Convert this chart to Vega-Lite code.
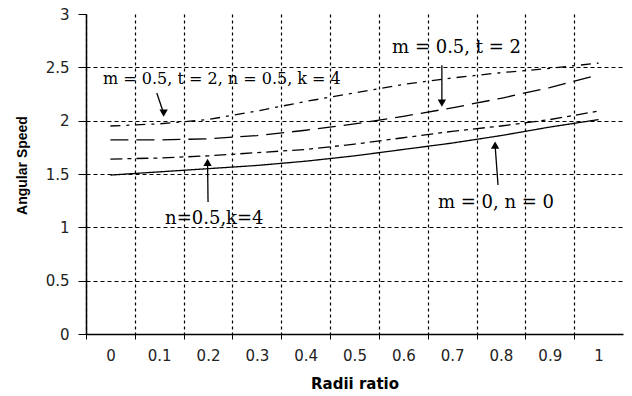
{
  "$schema": "https://vega.github.io/schema/vega-lite/v6.json",
  "width": 537,
  "height": 320,
  "autosize": "none",
  "padding": {"left": 86, "top": 14, "right": 9, "bottom": 62},
  "background": "white",
  "config": {"view": {"stroke": null}},
  "datasets": {
    "curves": [
      {"ratio": 0.0, "speed": 1.49, "series": "m=0,n=0"},
      {"ratio": 0.1, "speed": 1.52, "series": "m=0,n=0"},
      {"ratio": 0.2, "speed": 1.55, "series": "m=0,n=0"},
      {"ratio": 0.3, "speed": 1.58, "series": "m=0,n=0"},
      {"ratio": 0.4, "speed": 1.62, "series": "m=0,n=0"},
      {"ratio": 0.5, "speed": 1.67, "series": "m=0,n=0"},
      {"ratio": 0.6, "speed": 1.73, "series": "m=0,n=0"},
      {"ratio": 0.7, "speed": 1.79, "series": "m=0,n=0"},
      {"ratio": 0.8, "speed": 1.86, "series": "m=0,n=0"},
      {"ratio": 0.9, "speed": 1.94, "series": "m=0,n=0"},
      {"ratio": 1.0, "speed": 2.01, "series": "m=0,n=0"},
      {"ratio": 0.0, "speed": 1.64, "series": "n=0.5,k=4"},
      {"ratio": 0.1, "speed": 1.65, "series": "n=0.5,k=4"},
      {"ratio": 0.2, "speed": 1.67, "series": "n=0.5,k=4"},
      {"ratio": 0.3, "speed": 1.70, "series": "n=0.5,k=4"},
      {"ratio": 0.4, "speed": 1.73, "series": "n=0.5,k=4"},
      {"ratio": 0.5, "speed": 1.78, "series": "n=0.5,k=4"},
      {"ratio": 0.6, "speed": 1.84, "series": "n=0.5,k=4"},
      {"ratio": 0.7, "speed": 1.90, "series": "n=0.5,k=4"},
      {"ratio": 0.8, "speed": 1.95, "series": "n=0.5,k=4"},
      {"ratio": 0.9, "speed": 2.01, "series": "n=0.5,k=4"},
      {"ratio": 1.0, "speed": 2.09, "series": "n=0.5,k=4"},
      {"ratio": 0.0, "speed": 1.82, "series": "m=0.5,t=2"},
      {"ratio": 0.1, "speed": 1.82, "series": "m=0.5,t=2"},
      {"ratio": 0.2, "speed": 1.83, "series": "m=0.5,t=2"},
      {"ratio": 0.3, "speed": 1.86, "series": "m=0.5,t=2"},
      {"ratio": 0.4, "speed": 1.91, "series": "m=0.5,t=2"},
      {"ratio": 0.5, "speed": 1.97, "series": "m=0.5,t=2"},
      {"ratio": 0.6, "speed": 2.04, "series": "m=0.5,t=2"},
      {"ratio": 0.7, "speed": 2.12, "series": "m=0.5,t=2"},
      {"ratio": 0.8, "speed": 2.21, "series": "m=0.5,t=2"},
      {"ratio": 0.9, "speed": 2.31, "series": "m=0.5,t=2"},
      {"ratio": 1.0, "speed": 2.43, "series": "m=0.5,t=2"},
      {"ratio": 0.0, "speed": 1.95, "series": "m=0.5,t=2,n=0.5,k=4"},
      {"ratio": 0.1, "speed": 1.97, "series": "m=0.5,t=2,n=0.5,k=4"},
      {"ratio": 0.2, "speed": 2.01, "series": "m=0.5,t=2,n=0.5,k=4"},
      {"ratio": 0.3, "speed": 2.09, "series": "m=0.5,t=2,n=0.5,k=4"},
      {"ratio": 0.4, "speed": 2.18, "series": "m=0.5,t=2,n=0.5,k=4"},
      {"ratio": 0.5, "speed": 2.26, "series": "m=0.5,t=2,n=0.5,k=4"},
      {"ratio": 0.6, "speed": 2.34, "series": "m=0.5,t=2,n=0.5,k=4"},
      {"ratio": 0.7, "speed": 2.40, "series": "m=0.5,t=2,n=0.5,k=4"},
      {"ratio": 0.8, "speed": 2.45, "series": "m=0.5,t=2,n=0.5,k=4"},
      {"ratio": 0.9, "speed": 2.49, "series": "m=0.5,t=2,n=0.5,k=4"},
      {"ratio": 1.0, "speed": 2.54, "series": "m=0.5,t=2,n=0.5,k=4"}
    ],
    "notes": [
      {"label": "m = 0.5, t = 2, n = 0.5, k = 4", "tx": -0.015, "ty": 2.39, "bx": 0.095, "by": 2.26, "hx": 0.109, "hy": 2.07, "dir": "down"},
      {"label": "m = 0.5, t = 2", "tx": 0.577, "ty": 2.68, "bx": 0.679, "by": 2.52, "hx": 0.679, "hy": 2.165, "dir": "down"},
      {"label": "n=0.5,k=4", "tx": 0.112, "ty": 1.078, "bx": 0.2, "by": 1.237, "hx": 0.199, "hy": 1.61, "dir": "up"},
      {"label": "m = 0, n = 0", "tx": 0.671, "ty": 1.228, "bx": 0.794, "by": 1.397, "hx": 0.788, "hy": 1.77, "dir": "up"}
    ]
  },
  "layer": [
    {
      "data": {"name": "curves"},
      "mark": {"type": "line", "color": "black", "strokeWidth": 1.3},
      "encoding": {
        "x": {
          "field": "ratio",
          "type": "quantitative",
          "scale": {"domain": [-0.05, 1.05], "nice": false, "zero": false},
          "axis": {
            "title": "Radii ratio",
            "titleFont": "DejaVu Sans",
            "titleFontSize": 15,
            "titleFontWeight": "bold",
            "titleColor": "black",
            "titleBaseline": "middle",
            "titleY": 49,
            "values": [-0.05, 0.05, 0.15, 0.25, 0.35, 0.45, 0.55, 0.65, 0.75, 0.85, 0.95],
            "labelExpr": "format(round((datum.value + 0.05) * 10) / 10, '~g')",
            "labelOffset": 24.4,
            "labelFlush": false,
            "labelOverlap": false,
            "labelBound": false,
            "labelFont": "DejaVu Sans",
            "labelFontSize": 15,
            "labelColor": "#222",
            "labelPadding": 9,
            "tickSize": 5,
            "tickColor": "black",
            "domainColor": "black",
            "domainWidth": 1.5,
            "grid": true,
            "gridColor": "black",
            "gridDash": [3, 3],
            "gridWidth": 1.2,
            "gridOpacity": 1
          }
        },
        "y": {
          "field": "speed",
          "type": "quantitative",
          "scale": {"domain": [0, 3], "nice": false},
          "axis": {
            "title": "Angular Speed",
            "titleFont": "Liberation Sans",
            "titleFontSize": 14,
            "titleFontWeight": "bold",
            "titleColor": "black",
            "titleBaseline": "middle",
            "titleX": -64,
            "titleY": 151,
            "values": [0, 0.5, 1, 1.5, 2, 2.5, 3],
            "format": "~g",
            "labelFont": "DejaVu Sans",
            "labelFontSize": 15,
            "labelColor": "#222",
            "labelPadding": 9,
            "tickSize": 8,
            "tickColor": "black",
            "domainColor": "black",
            "domainWidth": 1.5,
            "grid": true,
            "gridColor": "black",
            "gridDash": [4, 3],
            "gridWidth": 1.2,
            "gridOpacity": {"condition": {"test": "datum.value == 3", "value": 0}, "value": 1}
          }
        },
        "detail": {"field": "series"},
        "strokeDash": {
          "field": "series",
          "type": "nominal",
          "scale": {
            "domain": ["m=0,n=0", "n=0.5,k=4", "m=0.5,t=2", "m=0.5,t=2,n=0.5,k=4"],
            "range": [[1, 0], [12, 5, 4, 5], [18, 8], [10, 6, 3, 6]]
          },
          "legend": null
        }
      }
    },
    {
      "data": {"name": "notes"},
      "mark": {"type": "rule", "color": "black", "strokeWidth": 1.3},
      "encoding": {
        "x": {"field": "bx", "type": "quantitative"},
        "y": {"field": "by", "type": "quantitative"},
        "x2": {"field": "hx"},
        "y2": {"field": "hy"}
      }
    },
    {
      "data": {"name": "notes"},
      "mark": {"type": "point", "filled": true, "color": "black", "opacity": 1, "size": 70},
      "encoding": {
        "x": {"field": "hx", "type": "quantitative"},
        "y": {"field": "hy", "type": "quantitative"},
        "shape": {"condition": {"test": "datum.dir == 'down'", "value": "triangle-down"}, "value": "triangle-up"}
      }
    },
    {
      "data": {"name": "notes"},
      "mark": {"type": "text", "align": "left", "baseline": "middle", "font": "DejaVu Serif", "color": "black"},
      "encoding": {
        "x": {"field": "tx", "type": "quantitative"},
        "y": {"field": "ty", "type": "quantitative"},
        "text": {"field": "label"},
        "size": {"condition": {"test": "datum.dir == 'down' && datum.tx < 0", "value": 16}, "value": 18}
      }
    }
  ]
}
